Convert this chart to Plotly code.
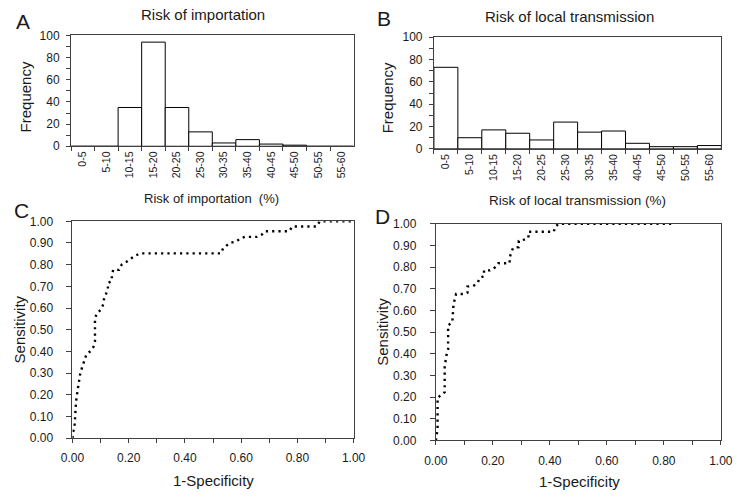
import plotly.graph_objects as go

# ---------------- data ----------------
bins = ["0-5", "5-10", "10-15", "15-20", "20-25", "25-30", "30-35",
        "35-40", "40-45", "45-50", "50-55", "55-60"]
freq_importation = [0, 0, 35, 94, 35, 13, 3, 6, 2, 1, 0, 0]
freq_local = [73, 10, 17, 14, 8, 24, 15, 16, 5, 2, 2, 3]

fpr_c = [0.0, 0.002, 0.007, 0.009, 0.009, 0.0125, 0.015, 0.018, 0.022, 0.028,
         0.036, 0.043, 0.05, 0.064, 0.074, 0.080, 0.080, 0.0875, 0.101, 0.110,
         0.1125, 0.120, 0.126, 0.126, 0.140, 0.140, 0.145, 0.166, 0.175, 0.191,
         0.206, 0.220, 0.240, 0.528, 0.536, 0.548, 0.561, 0.582, 0.597, 0.613,
         0.656, 0.674, 0.685, 0.771, 0.782, 0.868, 0.880, 1.0]
tpr_c = [0.0, 0.028, 0.048, 0.104, 0.134, 0.163, 0.193, 0.219, 0.249, 0.30,
         0.333, 0.360, 0.387, 0.401, 0.419, 0.445, 0.554, 0.575, 0.593, 0.618,
         0.645, 0.667, 0.688, 0.715, 0.725, 0.752, 0.776, 0.776, 0.800, 0.812,
         0.827, 0.839, 0.852, 0.852, 0.876, 0.888, 0.901, 0.906, 0.921, 0.928,
         0.928, 0.939, 0.954, 0.954, 0.976, 0.976, 1.0, 1.0]

fpr_d = [0.0, 0.003, 0.006, 0.006, 0.020, 0.031, 0.031, 0.033, 0.037, 0.043,
         0.043, 0.058, 0.060, 0.062, 0.062, 0.067, 0.071, 0.092, 0.111, 0.111,
         0.131, 0.146, 0.154, 0.169, 0.169, 0.190, 0.207, 0.219, 0.259, 0.259,
         0.266, 0.271, 0.291, 0.291, 0.310, 0.325, 0.325, 0.414, 0.418, 0.431,
         0.830]
tpr_d = [0.0, 0.024, 0.054, 0.197, 0.212, 0.223, 0.339, 0.368, 0.392, 0.419,
         0.531, 0.546, 0.573, 0.601, 0.631, 0.653, 0.676, 0.676, 0.682, 0.710,
         0.713, 0.725, 0.750, 0.758, 0.785, 0.785, 0.798, 0.818, 0.818, 0.845,
         0.867, 0.889, 0.892, 0.921, 0.927, 0.936, 0.963, 0.963, 0.985, 1.0,
         1.0]

roc_ticks = [0.0, 0.2, 0.4, 0.6, 0.8, 1.0]
sens_ticks = [i / 10 for i in range(11)]

# ---------------- layout helpers ----------------
W, H = 743, 499
FONT = "Liberation Sans, Arial, sans-serif"
TXT = "#1a1a1a"
AX = "#404040"


def px_x(v):
    return v / W


def px_y(v):
    return 1 - v / H


fig = go.Figure()

bar_style = dict(marker=dict(color="white", line=dict(color="black", width=1)),
                 showlegend=False, hoverinfo="x+y")
fig.add_trace(go.Bar(x=bins, y=freq_importation, xaxis="x", yaxis="y", **bar_style))
fig.add_trace(go.Bar(x=bins, y=freq_local, xaxis="x2", yaxis="y2", **bar_style))

roc_line = dict(color="black", width=2.4, dash="2.2px,4.1px")
fig.add_trace(go.Scatter(x=fpr_c, y=tpr_c, mode="lines", line=roc_line,
                         xaxis="x3", yaxis="y3", showlegend=False))
fig.add_trace(go.Scatter(x=fpr_d, y=tpr_d, mode="lines", line=roc_line,
                         xaxis="x4", yaxis="y4", showlegend=False))

hist_x = dict(type="category", tickson="boundaries", ticks="outside", ticklen=4,
              tickcolor=AX, linecolor=AX, linewidth=1, showline=True, mirror=True,
              tickangle=-90, tickfont=dict(size=10.5, color=TXT, family=FONT),
              range=[-0.5, 11.5], showgrid=False, zeroline=False, fixedrange=True)
hist_y = dict(range=[0, 100], dtick=20, tick0=0, ticks="outside", ticklen=4,
              tickcolor=AX, linecolor=AX, linewidth=1, showline=True, mirror=True,
              minor=dict(dtick=10, ticks="outside", ticklen=4, tickcolor=AX),
              tickfont=dict(size=12, color=TXT, family=FONT), ticklabelstandoff=4,
              showgrid=False, zeroline=False)
roc_x = dict(range=[0, 1], tickvals=roc_ticks, tickformat=".2f", ticks="outside",
             ticklen=4, tickcolor=AX, linecolor=AX, linewidth=1, showline=True,
             mirror=True, minor=dict(dtick=0.1, ticks="outside", ticklen=4, tickcolor=AX),
             tickfont=dict(size=12, color=TXT, family=FONT), ticklabelstandoff=5,
             showgrid=False, zeroline=False)
roc_y = dict(range=[0, 1], tickvals=sens_ticks, tickformat=".2f", ticks="outside",
             ticklen=5, tickcolor=AX, linecolor=AX, linewidth=1, showline=True,
             mirror=True, tickfont=dict(size=12, color=TXT, family=FONT),
             ticklabelstandoff=11, showgrid=False, zeroline=False)

fig.update_layout(
    width=W, height=H, autosize=False, margin=dict(l=0, r=0, t=0, b=0, pad=0),
    paper_bgcolor="white", plot_bgcolor="white", bargap=0,
    font=dict(family=FONT, color=TXT),
    xaxis=dict(domain=[px_x(61), px_x(353)], anchor="y", **hist_x),
    yaxis=dict(domain=[px_y(143.3), px_y(29.3)], anchor="x", **hist_y),
    xaxis2=dict(domain=[px_x(436), px_x(733)], anchor="y2", **hist_x),
    yaxis2=dict(domain=[px_y(146), px_y(31)], anchor="x2", **hist_y),
    xaxis3=dict(domain=[px_x(62.5), px_x(353)], anchor="y3", **roc_x),
    yaxis3=dict(domain=[px_y(443.5), px_y(220.5)], anchor="x3", **roc_y),
    xaxis4=dict(domain=[px_x(438), px_x(732.5)], anchor="y4", **roc_x),
    yaxis4=dict(domain=[px_y(446), px_y(223)], anchor="x4", **roc_y),
)


def note(text, x, y, size, angle=0):
    fig.add_annotation(text=text, x=px_x(x), y=px_y(y), xref="paper", yref="paper",
                       xanchor="center", yanchor="middle", showarrow=False,
                       textangle=angle, font=dict(size=size, color=TXT, family=FONT))


# panel letters
note("A", 11.5, 15, 21)
note("B", 384, 12, 21)
note("C", 9.5, 209, 21)
note("D", 383, 215.5, 21)
# panel titles
note("Risk of importation", 197, 7.5, 15)
note("Risk of local transmission", 576, 9.5, 15)
# axis titles
note("Risk of importation\u00a0 (%)", 206.5, 197, 13)
note("Risk of local transmission (%)", 584, 199.5, 13.5)
note("Frequency", 14, 92.5, 15, -90)
note("Frequency", 387.5, 93, 15, -90)
note("Sensitivity", 8, 332, 15, -90)
note("Sensitivity", 382.5, 334, 15, -90)
note("1-Specificity", 208, 487, 15)
note("1-Specificity", 586, 488, 15)

page_fix = ("document.documentElement.style.margin='0';"
            "document.body.style.margin='0';document.body.style.padding='0';"
            "document.body.style.overflow='hidden';")
fig.write_html("out.html", post_script=page_fix,
               config={"displayModeBar": False, "staticPlot": True})
